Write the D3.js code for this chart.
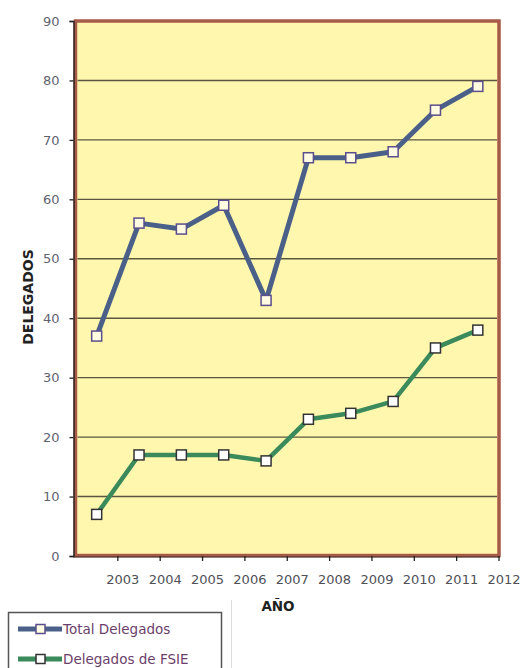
<!DOCTYPE html>
<html><head><meta charset="utf-8">
<script src="https://cdn.jsdelivr.net/npm/d3@7"></script>
<style>body{margin:0;background:#fff}svg{display:block}</style>
</head><body>
<svg id="c" width="524" height="668"></svg>
<script>
const categories = ["2003","2004","2005","2006","2007","2008","2009","2010","2011","2012"];
const totalDelegados = [37,56,55,59,43,67,67,68,75,79];
const delegadosFSIE = [7,17,17,17,16,23,24,26,35,38];
const yTicks = [0,10,20,30,40,50,60,70,80,90];
const seriesNames = ["Total Delegados","Delegados de FSIE"];

const svg = d3.select("#c");
const font = "DejaVu Sans, Verdana, sans-serif";
const L = 75.5, R = 499, T = 21, B = 556;
const x = d3.scaleBand().domain(categories).range([L, R]).padding(0);
const y = d3.scaleLinear().domain([0,90]).range([B, T]);
const cx = d => x(d) + x.bandwidth()/2;

// plot area
svg.append("rect").attr("x", L).attr("y", T).attr("width", R-L).attr("height", y(0)-0.5-T)
  .attr("fill", "#FFF7AD").attr("stroke", "#A85A48").attr("stroke-width", 3.5);

// gridlines
svg.append("g").selectAll("line").data(yTicks.filter(v => v>0 && v<90)).join("line")
  .attr("x1", L+2).attr("x2", R-2).attr("y1", d => y(d)).attr("y2", d => y(d))
  .attr("stroke", "#5a5640").attr("stroke-width", 1.4);

// y axis
const yAxis = svg.append("g").attr("transform", `translate(73.5,0)`)
  .call(d3.axisLeft(y).tickValues(yTicks).tickSize(4).tickPadding(10));
yAxis.select(".domain").attr("stroke", "#2a2020").attr("stroke-width", 1.5);
yAxis.selectAll(".tick line").attr("stroke", "#222").attr("stroke-width", 1.3);
yAxis.selectAll("text").attr("font-family", font).attr("font-size", 13).attr("fill", "#5f6370");

// x axis ticks at band edges
svg.append("line").attr("x1", 73).attr("x2", R+1).attr("y1", B+1).attr("y2", B+1)
  .attr("stroke", "#3a2a22").attr("stroke-width", 1.2);
svg.append("g").selectAll("line").data(categories).join("line")
  .attr("x1", d => x(d)+x.bandwidth()).attr("x2", d => x(d)+x.bandwidth())
  .attr("y1", B).attr("y2", B+5).attr("stroke", "#222").attr("stroke-width", 1.3);
svg.append("g").selectAll("text").data(categories).join("text")
  .attr("x", d => x(d)+x.bandwidth()+5).attr("y", 584)
  .attr("text-anchor", "middle").attr("font-family", font).attr("font-size", 13)
  .attr("fill", "#4f5058").text(d => d);

// axis titles
svg.append("text").attr("x", 278).attr("y", 611).attr("text-anchor", "middle")
  .attr("font-family", font).attr("font-size", 13.5).attr("font-weight", "bold")
  .attr("fill", "#222").text("AÑO");
svg.append("text").attr("transform", "translate(33,297) rotate(-90)").attr("text-anchor", "middle")
  .attr("font-family", font).attr("font-size", 14).attr("font-weight", "bold")
  .attr("fill", "#222").text("DELEGADOS");

// series
const series = [
  {name: seriesNames[0], values: totalDelegados, color: "#4A6088", w: 5, mfill: "#FFFCE2", mstroke: "#5B4E8C"},
  {name: seriesNames[1], values: delegadosFSIE, color: "#3A8A5C", w: 4.5, mfill: "#FFFFFF", mstroke: "#333333"}
];
const line = d3.line().x((v,i) => cx(categories[i])).y(v => y(v));
series.forEach(s => {
  svg.append("path").attr("d", line(s.values)).attr("fill", "none")
    .attr("stroke", s.color).attr("stroke-width", s.w).attr("stroke-linejoin", "round");
  svg.append("g").selectAll("rect").data(s.values).join("rect")
    .attr("x", (v,i) => cx(categories[i]) - 5).attr("y", v => y(v) - 5)
    .attr("width", 10).attr("height", 10)
    .attr("fill", s.mfill).attr("stroke", s.mstroke).attr("stroke-width", 1.5);
});

// faint separator
svg.append("line").attr("x1", 231.5).attr("x2", 231.5).attr("y1", 600).attr("y2", 668)
  .attr("stroke", "#dddddd").attr("stroke-width", 1);

// legend
svg.append("rect").attr("x", 8.5).attr("y", 612.5).attr("width", 213).attr("height", 70)
  .attr("fill", "#fff").attr("stroke", "#555").attr("stroke-width", 1.5);
series.forEach((s, i) => {
  const ly = 629 + i*30;
  svg.append("line").attr("x1", 18).attr("x2", 62).attr("y1", ly).attr("y2", ly)
    .attr("stroke", s.color).attr("stroke-width", 5);
  svg.append("rect").attr("x", 36).attr("y", ly-4.5).attr("width", 9).attr("height", 9)
    .attr("fill", s.mfill).attr("stroke", s.mstroke).attr("stroke-width", 1.5);
  svg.append("text").attr("x", 63).attr("y", ly+5).attr("font-family", font)
    .attr("font-size", 13.5).attr("fill", "#6b3f6b").text(s.name);
});
</script>
</body></html>
